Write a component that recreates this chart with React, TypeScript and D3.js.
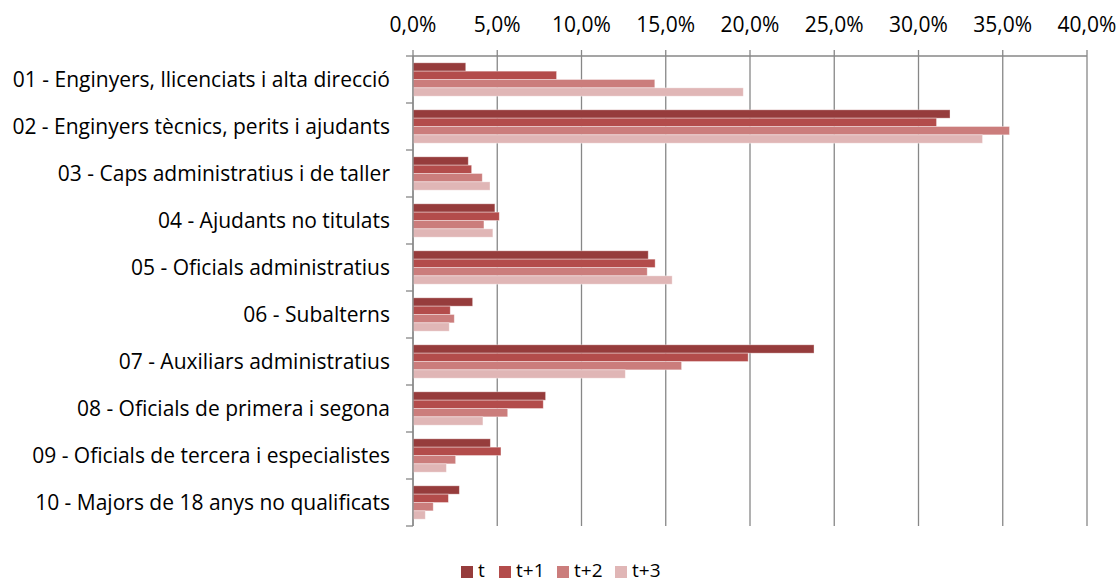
import React from "react";
import * as d3 from "d3";

const categories = [
  "01 - Enginyers, llicenciats i alta direcció",
  "02 - Enginyers tècnics, perits i ajudants",
  "03 - Caps administratius i de taller",
  "04 - Ajudants no titulats",
  "05 - Oficials administratius",
  "06 - Subalterns",
  "07 - Auxiliars administratius",
  "08 - Oficials de primera i segona",
  "09 - Oficials de tercera i especialistes",
  "10 - Majors de 18 anys no qualificats",
];

const seriesNames = ["t", "t+1", "t+2", "t+3"];

const valuesT = [3.13, 31.87, 3.28, 4.86, 13.96, 3.54, 23.8, 7.87, 4.59, 2.75];
const valuesT1 = [8.52, 31.07, 3.48, 5.12, 14.37, 2.21, 19.89, 7.73, 5.22, 2.1];
const valuesT2 = [14.35, 35.4, 4.11, 4.21, 13.9, 2.45, 15.94, 5.62, 2.53, 1.2];
const valuesT3 = [19.6, 33.8, 4.57, 4.74, 15.38, 2.15, 12.6, 4.15, 1.98, 0.73];

const xTicks = [0, 5, 10, 15, 20, 25, 30, 35, 40];

const colors = ["#963c3c", "#b34c4b", "#cb7d7c", "#e0b6b6"];

const W = 1119;
const H = 584;
const FONT = "'Open Sans', Lato, sans-serif";
const FS = 21;

export default function App() {
  const series = [valuesT, valuesT1, valuesT2, valuesT3];
  const left = 413;
  const right = 1087;
  const top = 56;
  const bottom = 526;

  const x = d3.scaleLinear().domain([0, 40]).range([left, right]);
  const y = d3
    .scaleBand<string>()
    .domain(categories)
    .range([top, bottom])
    .paddingInner(0.29)
    .paddingOuter(0.145);
  const y1 = d3
    .scaleBand<string>()
    .domain(seriesNames)
    .range([0, y.bandwidth()]);
  const step = (bottom - top) / categories.length;

  const legendX = [461, 499, 557, 615];

  return (
    <div style={{ position: "absolute", left: 0, top: 0 }}>
      <svg width={W} height={H} style={{ display: "block", background: "#fff" }}>
        {xTicks.map((t) => (
          <line
            key={"g" + t}
            x1={x(t)}
            x2={x(t)}
            y1={top}
            y2={bottom}
            stroke="#878787"
            strokeWidth={1.3}
          />
        ))}
        <line x1={left} x2={right} y1={top} y2={top} stroke="#878787" strokeWidth={1.3} />
        {xTicks.map((t) => (
          <g key={"t" + t}>
            <line x1={x(t)} x2={x(t)} y1={top - 6} y2={top} stroke="#878787" strokeWidth={1.3} />
            <text
              x={x(t)}
              y={32}
              textAnchor="middle"
              fontFamily={FONT}
              fontSize={FS}
              fill="#000"
            >
              {t.toFixed(1).replace(".", ",")}%
            </text>
          </g>
        ))}
        {categories.map((c, ci) => (
          <g key={c} transform={`translate(0,${y(c)})`}>
            {series.map((vals, si) => (
              <rect
                key={si}
                x={x(0)}
                y={y1(seriesNames[si])}
                width={x(vals[ci]) - x(0)}
                height={y1.bandwidth()}
                fill={colors[si]}
                stroke="rgba(255,255,255,0.45)"
                strokeWidth={0.8}
              />
            ))}
          </g>
        ))}
        <line x1={left} x2={left} y1={top} y2={bottom} stroke="#878787" strokeWidth={1.3} />
        {d3.range(categories.length + 1).map((i) => (
          <line
            key={"yt" + i}
            x1={left - 7}
            x2={left}
            y1={top + i * step}
            y2={top + i * step}
            stroke="#878787"
            strokeWidth={1.3}
          />
        ))}
        {categories.map((c) => (
          <text
            key={"l" + c}
            x={390}
            y={(y(c) ?? 0) + y.bandwidth() / 2}
            dy="0.35em"
            textAnchor="end"
            fontFamily={FONT}
            fontSize={FS}
            fill="#000"
          >
            {c}
          </text>
        ))}
        {seriesNames.map((s, i) => (
          <g key={"lg" + s}>
            <rect x={legendX[i]} y={566} width={12} height={12} fill={colors[i]} />
            <text x={legendX[i] + 17} y={577} fontFamily={FONT} fontSize={19} fill="#000">
              {s}
            </text>
          </g>
        ))}
      </svg>
    </div>
  );
}
